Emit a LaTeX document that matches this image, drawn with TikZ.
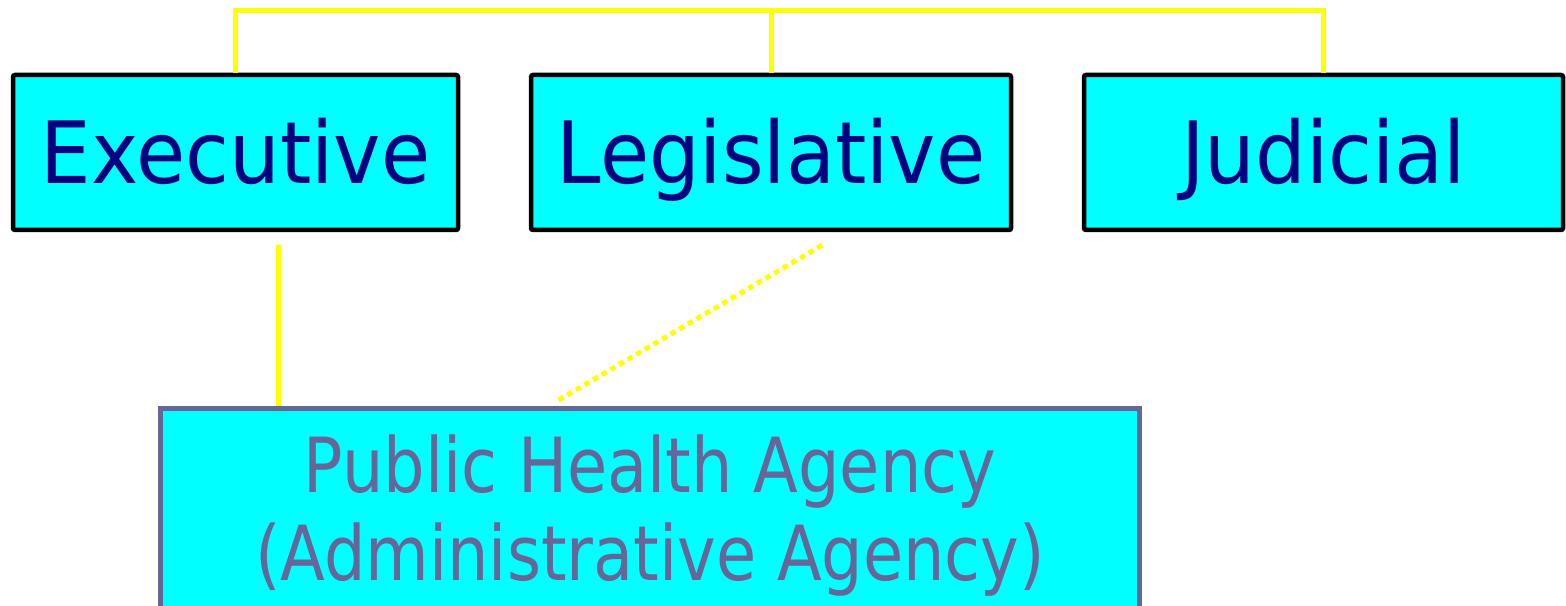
\documentclass[tikz,border=0pt]{standalone}
\usepackage{fontspec}
\setmainfont{DejaVu Sans}
\newfontfamily\branchfont[FakeStretch=0.93]{DejaVu Sans}
\newfontfamily\agencyfont[FakeStretch=0.86]{DejaVu Sans}
\usetikzlibrary{calc}
\definecolor{boxcyan}{HTML}{00FFFF}
\definecolor{branchtext}{HTML}{000080}
\definecolor{agencyslate}{HTML}{666699}
\definecolor{linkyellow}{HTML}{FFFF00}
\tikzstyle{branch} = [rectangle, rounded corners=2pt, minimum width=445pt, minimum height=155pt, inner sep=0pt, text centered, draw=black, fill=boxcyan, line width=4.5pt, text=branchtext, font=\branchfont\fontsize{86}{100}\selectfont, text height=62.7pt, text depth=0pt]
\tikzstyle{agency} = [rectangle, minimum width=979pt, minimum height=215pt, inner sep=0pt, align=center, draw=agencyslate, fill=boxcyan, line width=5pt, text=agencyslate, font=\agencyfont\fontsize{76}{88}\selectfont]
\tikzstyle{link} = [line width=5pt, draw=linkyellow]
\tikzstyle{dottedlink} = [link, dash pattern=on 5.5pt off 4.5pt]

\begin{document}
\begin{tikzpicture}[x=1pt, y=1pt]
    \useasboundingbox (0,0) rectangle (1566,605);

    % Nodes
    \node (exec) [branch] at (235.5,452.5) {Executive};
    \node (legis) [branch, minimum width=480pt] at ($(exec)+(535.5,0)$) {Legislative};
    \node (judic) [branch, minimum width=479pt] at ($(legis)+(552.5,0)$) {Judicial};
    \node (agency) [agency] at (650,89) {Public Health Agency\\(Administrative Agency)};

    \coordinate (bus) at ($(exec.north)+(0,62)$);
    \coordinate (execdrop) at ($(exec.south)+(42.5,-13)$);
    \coordinate (legisdrop) at ($(legis.south)+(51,-13)$);
    \coordinate (dotend) at ($(agency.north)+(-92,5.5)$);

    \draw [link] (exec.north) -- (bus) -| (judic.north);
    \draw [link] (legis.north) -- (legis.north |- bus);
    \draw [link] (execdrop) -- (execdrop |- agency.north);
    \draw [dottedlink] (legisdrop) -- (dotend);
\end{tikzpicture}
\end{document}
